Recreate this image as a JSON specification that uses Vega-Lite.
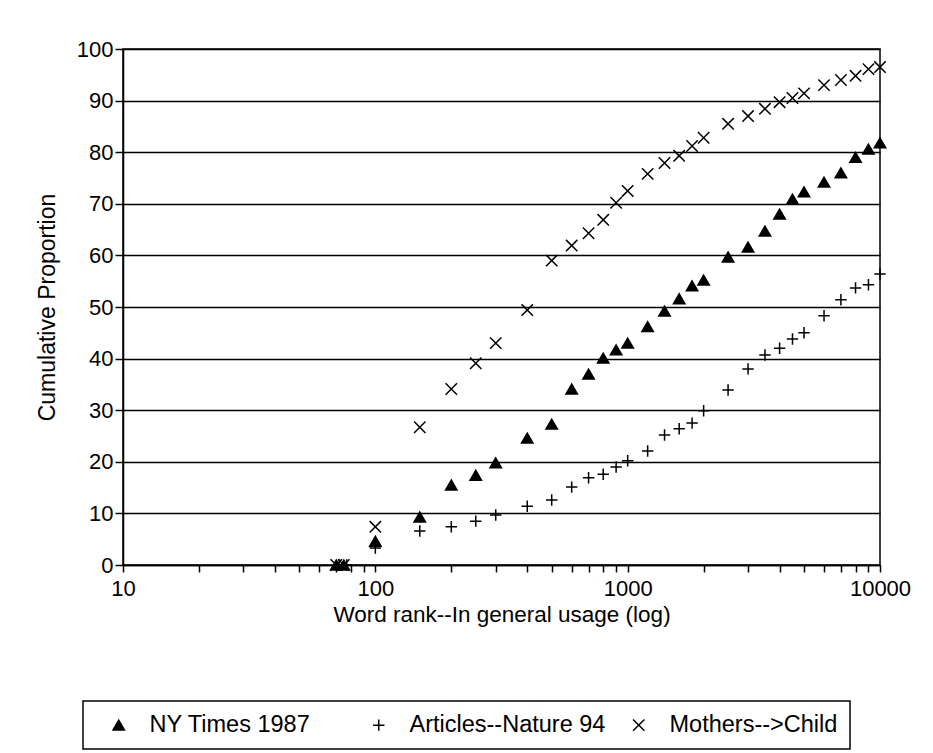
{
  "$schema": "https://vega.github.io/schema/vega-lite/v6.json",
  "width": 757,
  "height": 516,
  "autosize": {"type": "none"},
  "padding": {"left": 123, "top": 49, "right": 53, "bottom": 188},
  "background": "white",
  "config": {
    "font": "Liberation Sans",
    "view": {"stroke": "black", "strokeWidth": 1.5},
    "legend": {
      "orient": "none",
      "legendX": -40,
      "legendY": 652,
      "direction": "horizontal",
      "columns": 3,
      "gridAlign": "all",
      "strokeColor": "black",
      "strokeWidth": 1.5,
      "padding": 12,
      "labelFont": "Liberation Sans",
      "labelFontSize": 23.5,
      "labelColor": "black",
      "labelLimit": 400,
      "labelOffset": 19,
      "columnPadding": 21,
      "symbolSize": 130,
      "symbolStrokeWidth": 1.5
    }
  },
  "data": {
    "values": [
      {"series": "NY Times 1987", "rank": 70, "pct": 0},
      {"series": "NY Times 1987", "rank": 75, "pct": 0},
      {"series": "NY Times 1987", "rank": 100, "pct": 4.6},
      {"series": "NY Times 1987", "rank": 150, "pct": 9.3},
      {"series": "NY Times 1987", "rank": 200, "pct": 15.5},
      {"series": "NY Times 1987", "rank": 250, "pct": 17.4},
      {"series": "NY Times 1987", "rank": 300, "pct": 19.8},
      {"series": "NY Times 1987", "rank": 400, "pct": 24.6},
      {"series": "NY Times 1987", "rank": 500, "pct": 27.3},
      {"series": "NY Times 1987", "rank": 600, "pct": 34.1},
      {"series": "NY Times 1987", "rank": 700, "pct": 37},
      {"series": "NY Times 1987", "rank": 800, "pct": 40.1},
      {"series": "NY Times 1987", "rank": 900, "pct": 41.7},
      {"series": "NY Times 1987", "rank": 1000, "pct": 43},
      {"series": "NY Times 1987", "rank": 1200, "pct": 46.2},
      {"series": "NY Times 1987", "rank": 1400, "pct": 49.2},
      {"series": "NY Times 1987", "rank": 1600, "pct": 51.6},
      {"series": "NY Times 1987", "rank": 1800, "pct": 54.1},
      {"series": "NY Times 1987", "rank": 2000, "pct": 55.2},
      {"series": "NY Times 1987", "rank": 2500, "pct": 59.7},
      {"series": "NY Times 1987", "rank": 3000, "pct": 61.6},
      {"series": "NY Times 1987", "rank": 3500, "pct": 64.7},
      {"series": "NY Times 1987", "rank": 4000, "pct": 68},
      {"series": "NY Times 1987", "rank": 4500, "pct": 70.9},
      {"series": "NY Times 1987", "rank": 5000, "pct": 72.3},
      {"series": "NY Times 1987", "rank": 6000, "pct": 74.2},
      {"series": "NY Times 1987", "rank": 7000, "pct": 76},
      {"series": "NY Times 1987", "rank": 8000, "pct": 79},
      {"series": "NY Times 1987", "rank": 9000, "pct": 80.6},
      {"series": "NY Times 1987", "rank": 10000, "pct": 81.8},
      {"series": "Articles--Nature 94", "rank": 72, "pct": 0},
      {"series": "Articles--Nature 94", "rank": 77, "pct": 0},
      {"series": "Articles--Nature 94", "rank": 100, "pct": 3.3},
      {"series": "Articles--Nature 94", "rank": 150, "pct": 6.6},
      {"series": "Articles--Nature 94", "rank": 200, "pct": 7.4},
      {"series": "Articles--Nature 94", "rank": 250, "pct": 8.5},
      {"series": "Articles--Nature 94", "rank": 300, "pct": 9.7},
      {"series": "Articles--Nature 94", "rank": 400, "pct": 11.4},
      {"series": "Articles--Nature 94", "rank": 500, "pct": 12.6},
      {"series": "Articles--Nature 94", "rank": 600, "pct": 15.1},
      {"series": "Articles--Nature 94", "rank": 700, "pct": 16.9},
      {"series": "Articles--Nature 94", "rank": 800, "pct": 17.6},
      {"series": "Articles--Nature 94", "rank": 900, "pct": 19},
      {"series": "Articles--Nature 94", "rank": 1000, "pct": 20.2},
      {"series": "Articles--Nature 94", "rank": 1200, "pct": 22.1},
      {"series": "Articles--Nature 94", "rank": 1400, "pct": 25.2},
      {"series": "Articles--Nature 94", "rank": 1600, "pct": 26.4},
      {"series": "Articles--Nature 94", "rank": 1800, "pct": 27.5},
      {"series": "Articles--Nature 94", "rank": 2000, "pct": 29.9},
      {"series": "Articles--Nature 94", "rank": 2500, "pct": 33.9},
      {"series": "Articles--Nature 94", "rank": 3000, "pct": 38},
      {"series": "Articles--Nature 94", "rank": 3500, "pct": 40.7},
      {"series": "Articles--Nature 94", "rank": 4000, "pct": 42},
      {"series": "Articles--Nature 94", "rank": 4500, "pct": 43.8},
      {"series": "Articles--Nature 94", "rank": 5000, "pct": 45},
      {"series": "Articles--Nature 94", "rank": 6000, "pct": 48.3},
      {"series": "Articles--Nature 94", "rank": 7000, "pct": 51.4},
      {"series": "Articles--Nature 94", "rank": 8000, "pct": 53.7},
      {"series": "Articles--Nature 94", "rank": 9000, "pct": 54.3},
      {"series": "Articles--Nature 94", "rank": 10000, "pct": 56.4},
      {"series": "Mothers-->Child", "rank": 70, "pct": 0},
      {"series": "Mothers-->Child", "rank": 75, "pct": 0},
      {"series": "Mothers-->Child", "rank": 100, "pct": 7.4},
      {"series": "Mothers-->Child", "rank": 150, "pct": 26.7},
      {"series": "Mothers-->Child", "rank": 200, "pct": 34.1},
      {"series": "Mothers-->Child", "rank": 250, "pct": 39.1},
      {"series": "Mothers-->Child", "rank": 300, "pct": 43},
      {"series": "Mothers-->Child", "rank": 400, "pct": 49.4},
      {"series": "Mothers-->Child", "rank": 500, "pct": 59},
      {"series": "Mothers-->Child", "rank": 600, "pct": 61.9},
      {"series": "Mothers-->Child", "rank": 700, "pct": 64.3},
      {"series": "Mothers-->Child", "rank": 800, "pct": 66.9},
      {"series": "Mothers-->Child", "rank": 900, "pct": 70.2},
      {"series": "Mothers-->Child", "rank": 1000, "pct": 72.5},
      {"series": "Mothers-->Child", "rank": 1200, "pct": 75.8},
      {"series": "Mothers-->Child", "rank": 1400, "pct": 77.9},
      {"series": "Mothers-->Child", "rank": 1600, "pct": 79.3},
      {"series": "Mothers-->Child", "rank": 1800, "pct": 81.2},
      {"series": "Mothers-->Child", "rank": 2000, "pct": 82.8},
      {"series": "Mothers-->Child", "rank": 2500, "pct": 85.5},
      {"series": "Mothers-->Child", "rank": 3000, "pct": 87},
      {"series": "Mothers-->Child", "rank": 3500, "pct": 88.4},
      {"series": "Mothers-->Child", "rank": 4000, "pct": 89.7},
      {"series": "Mothers-->Child", "rank": 4500, "pct": 90.5},
      {"series": "Mothers-->Child", "rank": 5000, "pct": 91.4},
      {"series": "Mothers-->Child", "rank": 6000, "pct": 93},
      {"series": "Mothers-->Child", "rank": 7000, "pct": 94},
      {"series": "Mothers-->Child", "rank": 8000, "pct": 94.8},
      {"series": "Mothers-->Child", "rank": 9000, "pct": 96.1},
      {"series": "Mothers-->Child", "rank": 10000, "pct": 96.5}
    ]
  },
  "mark": {"type": "point", "filled": false, "fill": "black", "strokeWidth": 1.5, "opacity": 1, "size": 130, "clip": false},
  "encoding": {
    "x": {
      "field": "rank",
      "type": "quantitative",
      "scale": {"type": "log", "domain": [10, 10000]},
      "axis": {
        "values": [10, 20, 30, 40, 50, 60, 70, 80, 90, 100, 200, 300, 400, 500, 600, 700, 800, 900, 1000, 2000, 3000, 4000, 5000, 6000, 7000, 8000, 9000, 10000],
        "format": "d",
        "labelExpr": "(datum.value == 10 || datum.value == 100 || datum.value == 1000 || datum.value == 10000) ? datum.label : ''",
        "labelOverlap": false,
        "labelFlush": false,
        "grid": false,
        "domain": true,
        "domainColor": "black",
        "domainWidth": 1.5,
        "ticks": true,
        "tickColor": "black",
        "tickWidth": 1.5,
        "tickSize": 7,
        "labelPadding": 6,
        "labelFont": "Liberation Sans",
        "labelFontSize": 22,
        "labelColor": "black",
        "title": "Word rank--In general usage (log)",
        "titleFont": "Liberation Sans",
        "titleFontSize": 22.5,
        "titleFontWeight": "normal",
        "titleColor": "black",
        "titlePadding": 4
      }
    },
    "y": {
      "field": "pct",
      "type": "quantitative",
      "scale": {"domain": [0, 100]},
      "axis": {
        "values": [0, 10, 20, 30, 40, 50, 60, 70, 80, 90, 100],
        "grid": true,
        "gridColor": "black",
        "gridWidth": 1.5,
        "gridOpacity": 1,
        "domain": true,
        "domainColor": "black",
        "domainWidth": 1.5,
        "tickColor": "black",
        "tickWidth": 1.5,
        "tickSize": 8,
        "labelPadding": 2,
        "labelFont": "Liberation Sans",
        "labelFontSize": 22,
        "labelColor": "black",
        "title": "Cumulative Proportion",
        "titleFont": "Liberation Sans",
        "titleFontSize": 23,
        "titleFontWeight": "normal",
        "titleColor": "black",
        "titlePadding": 17
      }
    },
    "color": {
      "field": "series",
      "type": "nominal",
      "scale": {
        "domain": ["NY Times 1987", "Articles--Nature 94", "Mothers-->Child"],
        "range": ["black", "black", "black"]
      },
      "legend": {
        "title": " ",
        "titleOrient": "left",
        "titleFontSize": 4,
        "titlePadding": 12,
        "encode": {"symbols": {"update": {"fill": {"value": "black"}}}}
      }
    },
    "shape": {
      "field": "series",
      "type": "nominal",
      "scale": {
        "domain": ["NY Times 1987", "Articles--Nature 94", "Mothers-->Child"],
        "range": ["triangle-up", "M-1,0L1,0M0,-1L0,1", "M-1,-1L1,1M-1,1L1,-1"]
      },
      "legend": {
        "title": " ",
        "titleOrient": "left",
        "titleFontSize": 4,
        "titlePadding": 12,
        "encode": {"symbols": {"update": {"fill": {"value": "black"}}}}
      }
    }
  }
}
